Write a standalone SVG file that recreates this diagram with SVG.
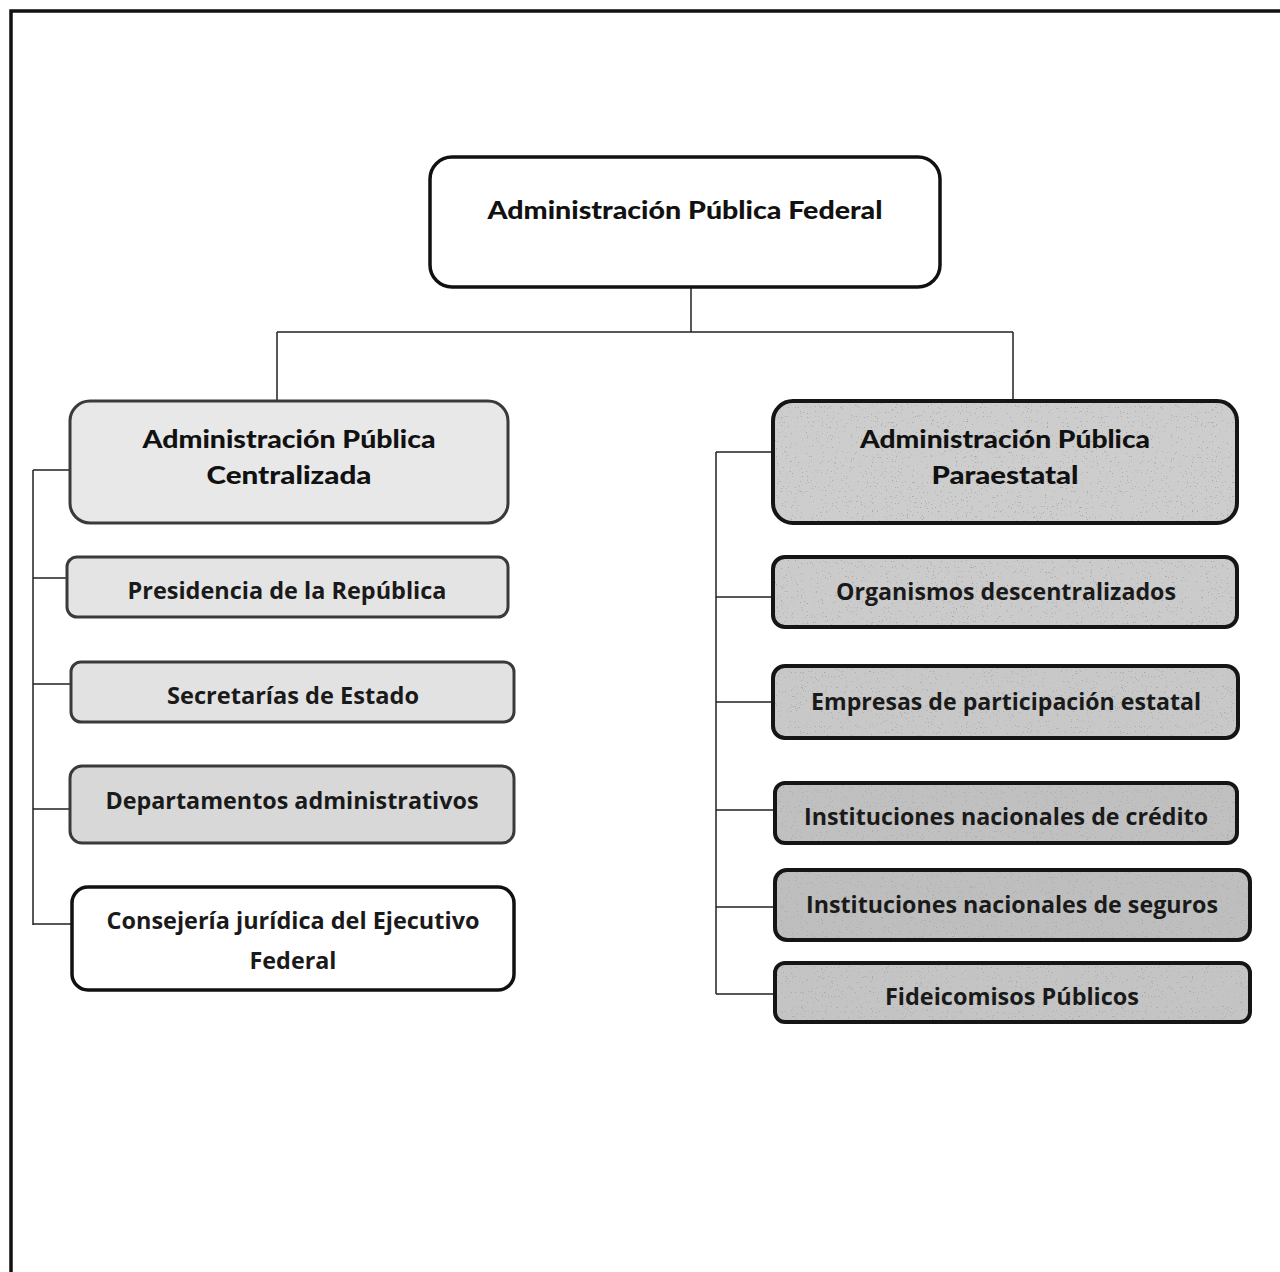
<svg xmlns="http://www.w3.org/2000/svg" width="1280" height="1272" viewBox="0 0 1280 1272">
<style>
.title{font-family:Lato,"Open Sans","Liberation Sans",sans-serif;font-weight:900;fill:#111;text-anchor:middle}
.lbl{font-family:"Open Sans","Noto Sans","Liberation Sans",sans-serif;font-weight:700;fill:#1a1a1a;text-anchor:middle}
.lb{stroke:#3a3a3a;stroke-width:3}
.rb{fill:none;stroke:#151515;stroke-width:4}
.conn{fill:none;stroke:#222;stroke-width:1.5}
</style>
<defs>
<filter id="speck" x="0" y="0" width="1" height="1">
<feTurbulence type="fractalNoise" baseFrequency="0.8" numOctaves="2" seed="5" result="n"/>
<feColorMatrix in="n" type="matrix" values="0 0 0 0 0.4  0 0 0 0 0.4  0 0 0 0 0.4  14 0 0 0 -9.6" result="d"/>
<feComposite in="d" in2="SourceGraphic" operator="in" result="dd"/>
<feMerge><feMergeNode in="SourceGraphic"/><feMergeNode in="dd"/></feMerge>
</filter>
</defs>
<rect width="1280" height="1272" fill="#fff"/>
<g id="frame" stroke="#111" stroke-width="3.5" fill="none">
<path d="M11 1272 V11 H1280"/>
</g>
<g id="connectors" class="conn">
<path d="M691 287 V332 M277 332 H1013 M277 332 V401 M1013 332 V401"/>
<path d="M33 470 V925 M33 470 H70 M33 578 H67 M33 684 H71 M33 809 H70 M33 924 H72"/>
<path d="M716 452 V994 M716 452 H773 M716 597 H773 M716 702 H773 M716 810 H775 M716 907 H775 M716 994 H775"/>
</g>
<g id="n-federal">
<rect x="430" y="157" width="510" height="130" rx="22" fill="#fff" stroke="#111" stroke-width="3.5"/>
<text class="title" x="685" y="219" font-size="25" textLength="395" lengthAdjust="spacingAndGlyphs">Administración Pública Federal</text>
</g>
<g id="n-centralizada">
<rect x="70" y="401" width="438" height="122" rx="20" fill="#e8e8e8" class="lb"/>
<text class="title" x="289" y="448" font-size="25" textLength="293" lengthAdjust="spacingAndGlyphs">Administración Pública</text>
<text class="title" x="289" y="484" font-size="25" textLength="165" lengthAdjust="spacingAndGlyphs">Centralizada</text>
</g>
<g id="n-presidencia">
<rect x="67" y="557" width="441" height="60" rx="10" fill="#e4e4e4" class="lb"/>
<text class="lbl" x="287" y="599" font-size="23" textLength="319" lengthAdjust="spacingAndGlyphs">Presidencia de la República</text>
</g>
<g id="n-secretarias">
<rect x="71" y="662" width="443" height="60" rx="10" fill="#e2e2e2" class="lb"/>
<text class="lbl" x="293" y="704" font-size="23" textLength="252" lengthAdjust="spacingAndGlyphs">Secretarías de Estado</text>
</g>
<g id="n-departamentos">
<rect x="70" y="766" width="444" height="77" rx="12" fill="#d8d8d8" class="lb"/>
<text class="lbl" x="292" y="809" font-size="23" textLength="373" lengthAdjust="spacingAndGlyphs">Departamentos administrativos</text>
</g>
<g id="n-consejeria">
<rect x="72" y="887" width="442" height="103" rx="16" fill="#fff" stroke="#111" stroke-width="3.5"/>
<text class="lbl" x="293" y="929" font-size="23" textLength="373" lengthAdjust="spacingAndGlyphs">Consejería jurídica del Ejecutivo</text>
<text class="lbl" x="293" y="969" font-size="23" textLength="87" lengthAdjust="spacingAndGlyphs">Federal</text>
</g>
<g id="n-paraestatal">
<rect x="773" y="401" width="464" height="122" rx="20" fill="#cdcdcd" filter="url(#speck)"/>
<rect x="773" y="401" width="464" height="122" rx="20" class="rb"/>
<text class="title" x="1005" y="448" font-size="25" textLength="290" lengthAdjust="spacingAndGlyphs">Administración Pública</text>
<text class="title" x="1005" y="484" font-size="25" textLength="147" lengthAdjust="spacingAndGlyphs">Paraestatal</text>
</g>
<g id="n-organismos">
<rect x="773" y="557" width="464" height="70" rx="12" fill="#cbcbcb" filter="url(#speck)"/>
<rect x="773" y="557" width="464" height="70" rx="12" class="rb"/>
<text class="lbl" x="1006" y="600" font-size="23" textLength="340" lengthAdjust="spacingAndGlyphs">Organismos descentralizados</text>
</g>
<g id="n-empresas">
<rect x="773" y="666" width="465" height="72" rx="12" fill="#c8c8c8" filter="url(#speck)"/>
<rect x="773" y="666" width="465" height="72" rx="12" class="rb"/>
<text class="lbl" x="1006" y="710" font-size="23" textLength="390" lengthAdjust="spacingAndGlyphs">Empresas de participación estatal</text>
</g>
<g id="n-credito">
<rect x="775" y="783" width="462" height="60" rx="10" fill="#c0c0c0" filter="url(#speck)"/>
<rect x="775" y="783" width="462" height="60" rx="10" class="rb"/>
<text class="lbl" x="1006" y="825" font-size="23" textLength="404" lengthAdjust="spacingAndGlyphs">Instituciones nacionales de crédito</text>
</g>
<g id="n-seguros">
<rect x="775" y="870" width="475" height="70" rx="12" fill="#bebebe" filter="url(#speck)"/>
<rect x="775" y="870" width="475" height="70" rx="12" class="rb"/>
<text class="lbl" x="1012" y="913" font-size="23" textLength="412" lengthAdjust="spacingAndGlyphs">Instituciones nacionales de seguros</text>
</g>
<g id="n-fideicomisos">
<rect x="775" y="963" width="475" height="59" rx="10" fill="#c4c4c4" filter="url(#speck)"/>
<rect x="775" y="963" width="475" height="59" rx="10" class="rb"/>
<text class="lbl" x="1012" y="1005" font-size="23" textLength="254" lengthAdjust="spacingAndGlyphs">Fideicomisos Públicos</text>
</g>
</svg>
